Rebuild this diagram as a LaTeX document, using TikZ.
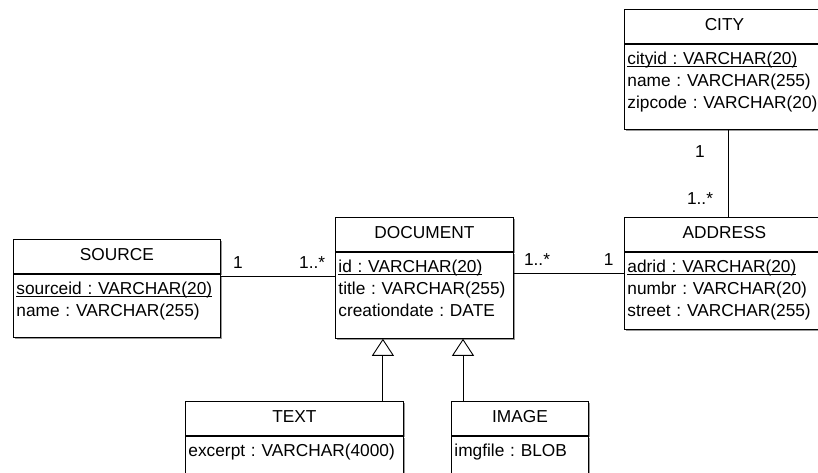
\documentclass[tikz,border=0pt]{standalone}
\usepackage{fontspec}
\setmainfont{Liberation Sans}
\usetikzlibrary{arrows.meta,shapes,positioning,shadows}
\frenchspacing

\tikzset{
  umlshadow/.style={drop shadow={shadow xshift=2pt,shadow yshift=-2pt,fill=black,opacity=0.4}},
  classname/.style={draw, fill=white, umlshadow, inner xsep=3pt, minimum height=34pt,
    text height=12pt, text depth=4pt, align=center, text width=#1},
  classbody/.style={draw, fill=white, umlshadow, inner xsep=3pt, inner ysep=8pt,
    text height=12pt, align=left, text width=#1},
  mult/.style={inner sep=2pt, text depth=0pt},
  inherit/.style={-{Triangle[open,length=17pt,width=22pt]}},
}
\newcommand{\pkey}[1]{\underline{\smash{#1}}}

\begin{document}
\begin{tikzpicture}[x=1pt,y=-1pt,line width=0.9pt,node distance=0pt,
    font=\fontsize{17.3}{22}\selectfont]
    \useasboundingbox (0,0) rectangle (818,472);
    \clip (0,0) rectangle (818,472);

    % classes
    \node[classname=194pt, anchor=north west] (cityname) at (624,9) {CITY};
    \node[classbody=194pt, text depth=57pt, below=of cityname] (citybody)
        {\pkey{cityid : VARCHAR(20)}\\name : VARCHAR(255)\\zipcode : VARCHAR(20)};

    \node[classname=201pt, anchor=north west] (srcname) at (13,239) {SOURCE};
    \node[classbody=201pt, text depth=35pt, below=of srcname] (srcbody)
        {\pkey{sourceid : VARCHAR(20)}\\name : VARCHAR(255)};

    \node[classname=172pt, anchor=north west] (docname) at (335,217) {DOCUMENT};
    \node[classbody=172pt, text depth=58pt, below=of docname] (docbody)
        {\pkey{id : VARCHAR(20)}\\title : VARCHAR(255)\\creationdate : DATE};

    \node[classname=194pt, anchor=north west] (addrname) at (624,217) {ADDRESS};
    \node[classbody=194pt, text depth=49pt, below=of addrname] (addrbody)
        {\pkey{adrid : VARCHAR(20)}\\numbr : VARCHAR(20)\\street : VARCHAR(255)};

    \node[classname=212pt, anchor=north west] (textname) at (185,401) {TEXT};
    \node[classbody=212pt, text depth=24pt, below=of textname] (textbody)
        {excerpt : VARCHAR(4000)};

    \node[classname=131pt, anchor=north west] (imgname) at (451,401) {IMAGE};
    \node[classbody=131pt, text depth=24pt, below=of imgname] (imgbody)
        {imgfile : BLOB};

    % associations
    \coordinate (srcdoc) at ([yshift=-3pt]srcbody.north east);
    \draw (srcdoc) -- (srcdoc -| docbody.west)
        node[mult, pos=0.15, above=6pt] {1}
        node[mult, pos=0.80, above=6pt] {1..*};

    \coordinate (docaddr) at ([yshift=-22pt]docbody.north east);
    \draw (docaddr) -- (docaddr -| addrbody.west)
        node[mult, pos=0.21, above=6pt] {1..*}
        node[mult, pos=0.86, above=6pt] {1};

    \coordinate (cityaddr) at ([xshift=104pt]citybody.south west);
    \draw (cityaddr) -- (cityaddr |- addrname.north)
        node[mult, pos=0.25, xshift=-28pt] {1}
        node[mult, pos=0.79, xshift=-28pt] {1..*};

    % generalisations
    \coordinate (textup) at ([xshift=-21pt]textname.north east);
    \draw[inherit] (textup) -- (textup |- docbody.south);
    \coordinate (imgup) at ([xshift=12pt]imgname.north west);
    \draw[inherit] (imgup) -- (imgup |- docbody.south);
\end{tikzpicture}
\end{document}
